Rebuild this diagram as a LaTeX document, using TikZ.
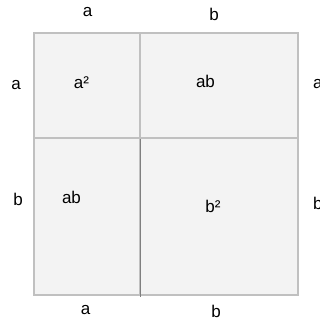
\documentclass[tikz,border=0pt]{standalone}
\usepackage{fontspec}
\setmainfont{Liberation Sans}
\definecolor{boxfill}{HTML}{F3F3F3}
\definecolor{boxline}{HTML}{C0C0C0}
\definecolor{darkline}{HTML}{7F7F7F}
\begin{document}
\begin{tikzpicture}[x=1pt,y=-1pt,
  cell/.style={fill=boxfill,draw=boxline,line width=1.5pt},
  lbl/.style={anchor=base,inner sep=0pt,font=\fontsize{17}{19}\selectfont}]
\useasboundingbox (0,0) rectangle (320,322);
\fill[white] (0,0) rectangle (320,322);
\draw[cell] (34,33) rectangle (140,138);
\draw[cell] (140,33) rectangle (298,138);
\draw[cell] (34,138) rectangle (140,295);
\draw[cell] (140,138) rectangle (298,295);
\coordinate (d1) at (140.3,138.5);
\coordinate (d2) at (140.3,297);
\draw[darkline,line width=1.5pt] (d1) -- (d2);
% outer labels
\node[lbl] (ta) at (87.5,16) {a};
\node[lbl] (tb) at (214,20) {b};
\node[lbl] (la) at (16,89) {a};
\node[lbl] (lb) at (18,205) {b};
\node[lbl,anchor=base west] (ra) at (313,88) {a};
\node[lbl,anchor=base west] (rb) at (313,209) {b};
\node[lbl] (ba) at (85.5,314) {a};
\node[lbl] (bb) at (216,317) {b};
% inner labels
\node[lbl] (a2) at (81.5,88) {a²};
\node[lbl] (ab1) at (205.5,87) {ab};
\node[lbl] (ab2) at (71.5,203) {ab};
\node[lbl] (b2) at (213,212) {b²};
\end{tikzpicture}
\end{document}
